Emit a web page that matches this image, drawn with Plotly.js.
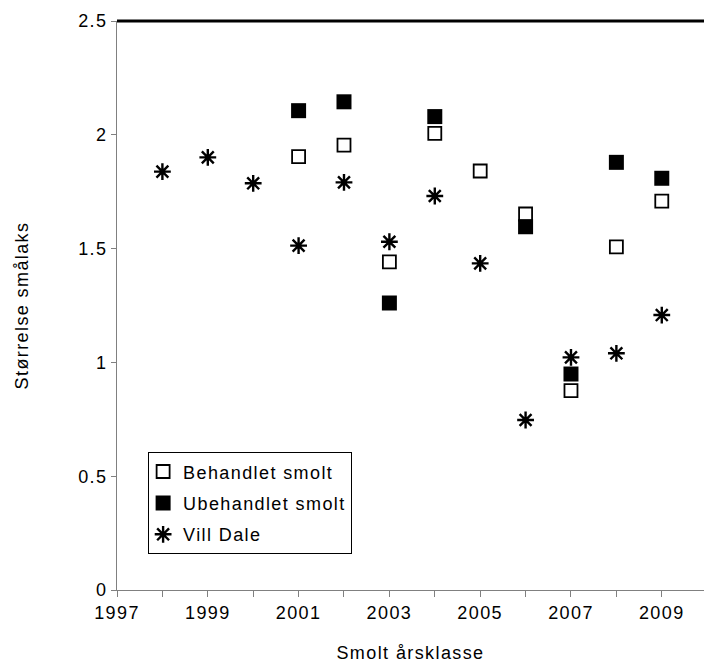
<!DOCTYPE html>
<html>
<head>
<meta charset="utf-8">
<script src="https://cdn.plot.ly/plotly-3.0.1.min.js"></script>
<style>
html,body{margin:0;padding:0;background:#fff;}
#chart{width:704px;height:666px;}
text{letter-spacing:1.4px;}
</style>
</head>
<body>
<div id="chart"></div>
<script>
var years = [1998, 1999, 2000, 2001, 2002, 2003, 2004, 2005, 2006, 2007, 2008, 2009];
var behandlet = [null, null, null, 1.904, 1.955, 1.442, 2.006, 1.841, 1.652, 0.876, 1.508, 1.709];
var ubehandlet = [null, null, null, 2.106, 2.145, 1.261, 2.080, null, 1.596, 0.949, 1.879, 1.809];
var villDale = [1.838, 1.901, 1.787, 1.513, 1.791, 1.530, 1.731, 1.435, 0.747, 1.022, 1.040, 1.208];
var xTickVals = [1997, 1998, 1999, 2000, 2001, 2002, 2003, 2004, 2005, 2006, 2007, 2008, 2009];
var xTickText = ['1997', '', '1999', '', '2001', '', '2003', '', '2005', '', '2007', '', '2009'];
var yTickVals = [0, 0.5, 1, 1.5, 2, 2.5];
var yTickText = ['0', '0.5', '1', '1.5', '2', '2.5'];

var font = 'Liberation Sans, Arial, sans-serif';
var fs = 18;

var traces = [
  {x: years, y: behandlet, name: 'Behandlet smolt', legendgroup: 'a', type: 'scatter', mode: 'markers',
   marker: {symbol: 'square', size: 13, color: '#ffffff', line: {color: '#000000', width: 1.8}}},
  {x: years, y: ubehandlet, name: 'Ubehandlet smolt', legendgroup: 'b', type: 'scatter', mode: 'markers',
   marker: {symbol: 'square', size: 15, color: '#000000', line: {color: '#000000', width: 0}}},
  {x: years, y: villDale, name: 'Vill Dale', legendgroup: 'c', type: 'scatter', mode: 'markers',
   marker: {symbol: 'asterisk-open', size: 14, color: '#000000', line: {color: '#000000', width: 2.4}}}
];

var layout = {
  width: 704, height: 666,
  margin: {l: 117, r: 0, t: 21, b: 76, pad: 0},
  paper_bgcolor: '#ffffff', plot_bgcolor: '#ffffff',
  font: {family: font, size: fs, color: '#000000'},
  showlegend: true,
  legend: {x: 0.053, y: 0.242, xanchor: 'left', yanchor: 'top',
           bordercolor: '#000000', borderwidth: 1, bgcolor: '#ffffff',
           font: {family: font, size: fs, color: '#000000'}, itemwidth: 30,
           traceorder: 'grouped', tracegroupgap: 5, indentation: -6},
  xaxis: {range: [1997, 2009.93], tickmode: 'array', tickvals: xTickVals, ticktext: xTickText,
          ticks: 'outside', ticklen: 6, tickcolor: '#808080', tickwidth: 1,
          showline: true, linecolor: '#808080', linewidth: 1, showgrid: false, zeroline: false,
          tickfont: {family: font, size: fs, color: '#000000'},
          title: {text: 'Smolt årsklasse', font: {family: font, size: fs, color: '#000000'}, standoff: 24}},
  yaxis: {range: [0, 2.5], tickmode: 'array', tickvals: yTickVals, ticktext: yTickText,
          ticks: 'outside', ticklen: 5, tickcolor: '#808080', tickwidth: 1,
          showline: true, linecolor: '#808080', linewidth: 1, showgrid: false, zeroline: false,
          tickfont: {family: font, size: fs, color: '#000000'},
          title: {text: 'Størrelse smålaks', font: {family: font, size: fs, color: '#000000'}, standoff: 44}},
  shapes: [{type: 'line', xref: 'paper', x0: 0, x1: 1, yref: 'paper', y0: 1, y1: 1,
            line: {color: '#000000', width: 3}}]
};

Plotly.newPlot('chart', traces, layout, {displayModeBar: false, staticPlot: true});
</script>
</body>
</html>
